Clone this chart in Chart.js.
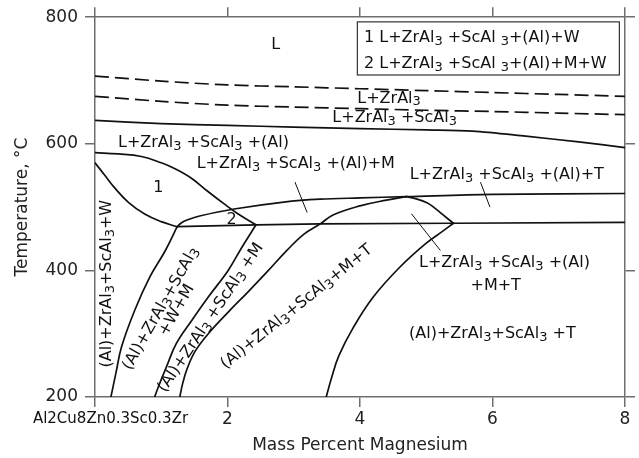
<!DOCTYPE html>
<html>
<head>
<meta charset="utf-8">
<script src="https://cdn.jsdelivr.net/npm/chart.js@4/dist/chart.umd.min.js"></script>
<style>
html,body{margin:0;padding:0;background:#fff;}
canvas{display:block;}
</style>
</head>
<body>
<canvas id="c" width="639" height="458"></canvas>
<script>
// ---- data: [mass % Mg, temperature °C] ----
const liquidusZrAl3 = [[0,707],[1,699],[2,693],[3,690],[4,687],[5,684],[6,681],[7,678],[8,675]];
const liquidusScAl3 = [[0,675],[1,667],[2,661],[3,658],[4,655.5],[5,653],[6,651],[7,648.5],[8,646]];
const liquidusAl = [[0,637],[1,632],[2,629],[3,626.5],[4,624],[5,622],[5.7,620],[6.5,612],[7.3,603],[8,594]];
const region1Upper = [[0,586],[0.35,584],[0.7,580],[1.0,570],[1.2,561],[1.45,546],[1.7,525],[1.95,505],[2.15,490],[2.43,472]];
const region1Lower = [[0,570],[0.15,550],[0.3,530],[0.5,508],[0.75,489],[1.0,477],[1.24,469]];
const solidusFlat = [[1.24,469],[2.43,472],[3.4,473.5],[5.41,474.5],[8,476]];
const mBoundary = [[1.24,469],[1.3,475],[1.4,480],[1.58,486],[2.1,497],[2.85,508],[3.4,512.5],[4.0,514.5],[4.7,516.5],[6,520],[8,521.5]];
const tLens = [[4.7,516.5],[4.85,513],[5.01,507],[5.11,500],[5.25,488],[5.41,474.5]];
const tSolvus = [[5.41,474.5],[5.25,462],[5.0,443],[4.6,405],[4.2,358],[3.9,310],[3.68,265],[3.57,230],[3.49,200]];
const wSolvus = [[0.24,200],[0.32,240],[0.40,279],[0.6,337],[0.83,390],[1.06,431],[1.24,469]];
const wmSolvus = [[0.9,200],[0.96,217],[1.08,248],[1.23,285],[1.46,321],[1.71,358],[2.01,400],[2.22,437],[2.43,472]];
const mSolvus = [[1.28,200],[1.32,220],[1.385,243],[1.51,272],[1.71,300],[2.0,333],[2.3,365],[2.6,398],[2.9,432],[3.15,457],[3.4,473.5],[3.6,488],[4.0,502],[4.4,511],[4.7,516.5]];
const leaderM = [[3.02,539],[3.2,492]];
const leaderT = [[5.82,539],[5.96,500.5]];
const leaderMT = [[4.78,489],[5.21,432]];

const xTicks = [0,2,4,6,8];
const xTickLabels = ['Al2Cu8Zn0.3Sc0.3Zr','2','4','6','8'];
const yTicks = [200,400,600,800];
const xTitle = 'Mass Percent Magnesium';
const yTitle = 'Temperature, °C';
const legendLines = ['1 L+ZrAl_3 +ScAl _3+(Al)+W','2 L+ZrAl_3 +ScAl _3+(Al)+M+W'];

// region labels: text, anchor in data coords, alignment, rotation
const regionLabels = [
  ['L', 2.728, 757, 'center', 0],
  ['L+ZrAl_3', 3.959, 671.7, 'left', 0],
  ['L+ZrAl_3 +ScAl_3', 3.582, 640.5, 'left', 0],
  ['L+ZrAl_3 +ScAl_3 +(Al)', 0.347, 600.8, 'left', 0],
  ['1', 0.955, 531.2, 'center', 0],
  ['2', 2.063, 479.8, 'center', 0],
  ['L+ZrAl_3 +ScAl_3 +(Al)+M', 1.535, 568, 'left', 0],
  ['L+ZrAl_3 +ScAl_3 +(Al)+T', 4.75, 550.9, 'left', 0],
  ['L+ZrAl_3 +ScAl_3 +(Al)', 4.89, 412.3, 'left', 0],
  ['+M+T', 6.048, 375.6, 'center', 0],
  ['(Al)+ZrAl_3+ScAl_3 +T', 4.74, 299.5, 'left', 0],
  ['(Al)+ZrAl_3+ScAl_3+W', 0.177, 379, 'center', -90],
  ['(Al)+ZrAl_3+ScAl_3', 0.993, 339.7, 'center', -60.6],
  ['+W+M', 1.233, 337, 'center', -60.6],
  ['(Al)+ZrAl_3 +ScAl_3 +M', 1.748, 325.2, 'center', -56],
  ['(Al)+ZrAl_3+ScAl_3+M+T', 3.045, 342.2, 'center', -38.7]
];
const legendBox = {x0:3.96, x1:7.915, t0:792.6, t1:708.7, textX:4.06, lineT:[767.7,725.7]};

// ---- helpers ----
const FONT = '"DejaVu Sans", "Liberation Sans", sans-serif';
function toPts(a){ return a.map(p => ({x:p[0], y:p[1]})); }
function curve(data, opts){
  return Object.assign({data:toPts(data), showLine:true, borderColor:'#111', borderWidth:1.7,
    pointRadius:0, tension:0.4, fill:false, borderCapStyle:'round', borderJoinStyle:'round'}, opts||{});
}
function parseRich(str){
  const segs=[]; let buf='';
  for(let i=0;i<str.length;i++){
    if(str[i]==='_'){ if(buf){segs.push({t:buf,sub:false});buf='';} segs.push({t:str[i+1],sub:true}); i++; }
    else buf+=str[i];
  }
  if(buf) segs.push({t:buf,sub:false});
  return segs;
}
function drawRich(ctx, str, x, y, align, size){
  const segs = parseRich(str);
  const fN = size+'px '+FONT, fS = Math.round(size*0.82)+'px '+FONT;
  let w=0;
  segs.forEach(s=>{ctx.font=s.sub?fS:fN; s.w=ctx.measureText(s.t).width; w+=s.w;});
  let cx = align==='left'?x:(align==='right'?x-w:x-w/2);
  ctx.textAlign='left'; ctx.textBaseline='middle';
  segs.forEach(s=>{ctx.font=s.sub?fS:fN; ctx.fillText(s.t,cx,y+(s.sub?size*0.22:0)); cx+=s.w;});
}

const annotations = {
  id:'annotations',
  afterDraw(chart){
    const ctx = chart.ctx, xs = chart.scales.x, ys = chart.scales.y;
    ctx.save();
    ctx.fillStyle = '#111';
    regionLabels.forEach(([t,x,y,align,rot])=>{
      const px = xs.getPixelForValue(x), py = ys.getPixelForValue(y);
      if(rot){
        ctx.save(); ctx.translate(px,py); ctx.rotate(rot*Math.PI/180);
        drawRich(ctx,t,0,0,align,16); ctx.restore();
      } else drawRich(ctx,t,px,py,align,16);
    });
    // legend box
    const bx0 = xs.getPixelForValue(legendBox.x0), bx1 = xs.getPixelForValue(legendBox.x1);
    const by0 = ys.getPixelForValue(legendBox.t0), by1 = ys.getPixelForValue(legendBox.t1);
    ctx.strokeStyle = '#333'; ctx.lineWidth = 1.2;
    ctx.strokeRect(bx0, by0, bx1-bx0, by1-by0);
    legendLines.forEach((t,i)=>drawRich(ctx,t,xs.getPixelForValue(legendBox.textX),ys.getPixelForValue(legendBox.lineT[i]),'left',16));
    // composition label at Mg = 0
    ctx.font = '15px '+FONT; ctx.textAlign='center'; ctx.textBaseline='middle';
    ctx.fillText(xTickLabels[0], xs.getPixelForValue(xTicks[0])+15.5, 419.5);
    ctx.restore();
  }
};

const axisColor = '#6e6e6e';
const tickFont = {family:FONT, size:17};
function frameScale(extra){
  return Object.assign({
    type:'linear',
    grid:{drawOnChartArea:false, drawTicks:true, tickLength:10, color:axisColor, lineWidth:1.5},
    border:{display:true, color:axisColor, width:1.5}
  }, extra);
}

new Chart(document.getElementById('c'), {
  type:'scatter',
  data:{datasets:[
    curve(liquidusZrAl3,{borderDash:[14,6], borderCapStyle:'butt', tension:0.3}),
    curve(liquidusScAl3,{borderDash:[14,6], borderCapStyle:'butt', tension:0.3}),
    curve(liquidusAl,{tension:0.3}),
    curve(region1Upper),
    curve(region1Lower),
    curve(solidusFlat,{tension:0}),
    curve(mBoundary,{tension:0.35}),
    curve(tLens),
    curve(tSolvus),
    curve(wSolvus),
    curve(wmSolvus),
    curve(mSolvus),
    curve(leaderM,{tension:0, borderWidth:1}),
    curve(leaderT,{tension:0, borderWidth:1}),
    curve(leaderMT,{tension:0, borderWidth:1})
  ]},
  options:{
    responsive:false, animation:false, events:[],
    layout:{padding:0},
    plugins:{legend:{display:false}, tooltip:{enabled:false}},
    scales:{
      x: frameScale({position:'bottom', min:0, max:8,
        afterBuildTicks(s){ s.ticks = xTicks.map(v=>({value:v})); },
        afterFit(s){ s.height = 61; },
        ticks:{font:tickFont, color:'#222', padding:2, maxRotation:0,
          callback:(v)=>{ const i = xTicks.indexOf(v); return i>0 ? xTickLabels[i] : ''; }},
        title:{display:true, text:xTitle, font:{family:FONT, size:17}, color:'#222', padding:{top:0,bottom:2}}
      }),
      xTop: frameScale({position:'top', min:0, max:8,
        afterBuildTicks(s){ s.ticks = xTicks.map(v=>({value:v})); },
        afterFit(s){ s.height = 16; },
        ticks:{display:false}
      }),
      y: frameScale({position:'left', min:200, max:800,
        afterBuildTicks(s){ s.ticks = yTicks.map(v=>({value:v})); },
        afterFit(s){ s.width = 95; },
        ticks:{font:tickFont, color:'#222', padding:7},
        title:{display:true, text:yTitle, font:{family:FONT, size:17}, color:'#222', padding:{top:12,bottom:0}}
      }),
      yRight: frameScale({position:'right', min:200, max:800,
        afterBuildTicks(s){ s.ticks = yTicks.map(v=>({value:v})); },
        afterFit(s){ s.width = 14; },
        ticks:{display:false}
      })
    }
  },
  plugins:[annotations]
});
</script>
</body>
</html>
